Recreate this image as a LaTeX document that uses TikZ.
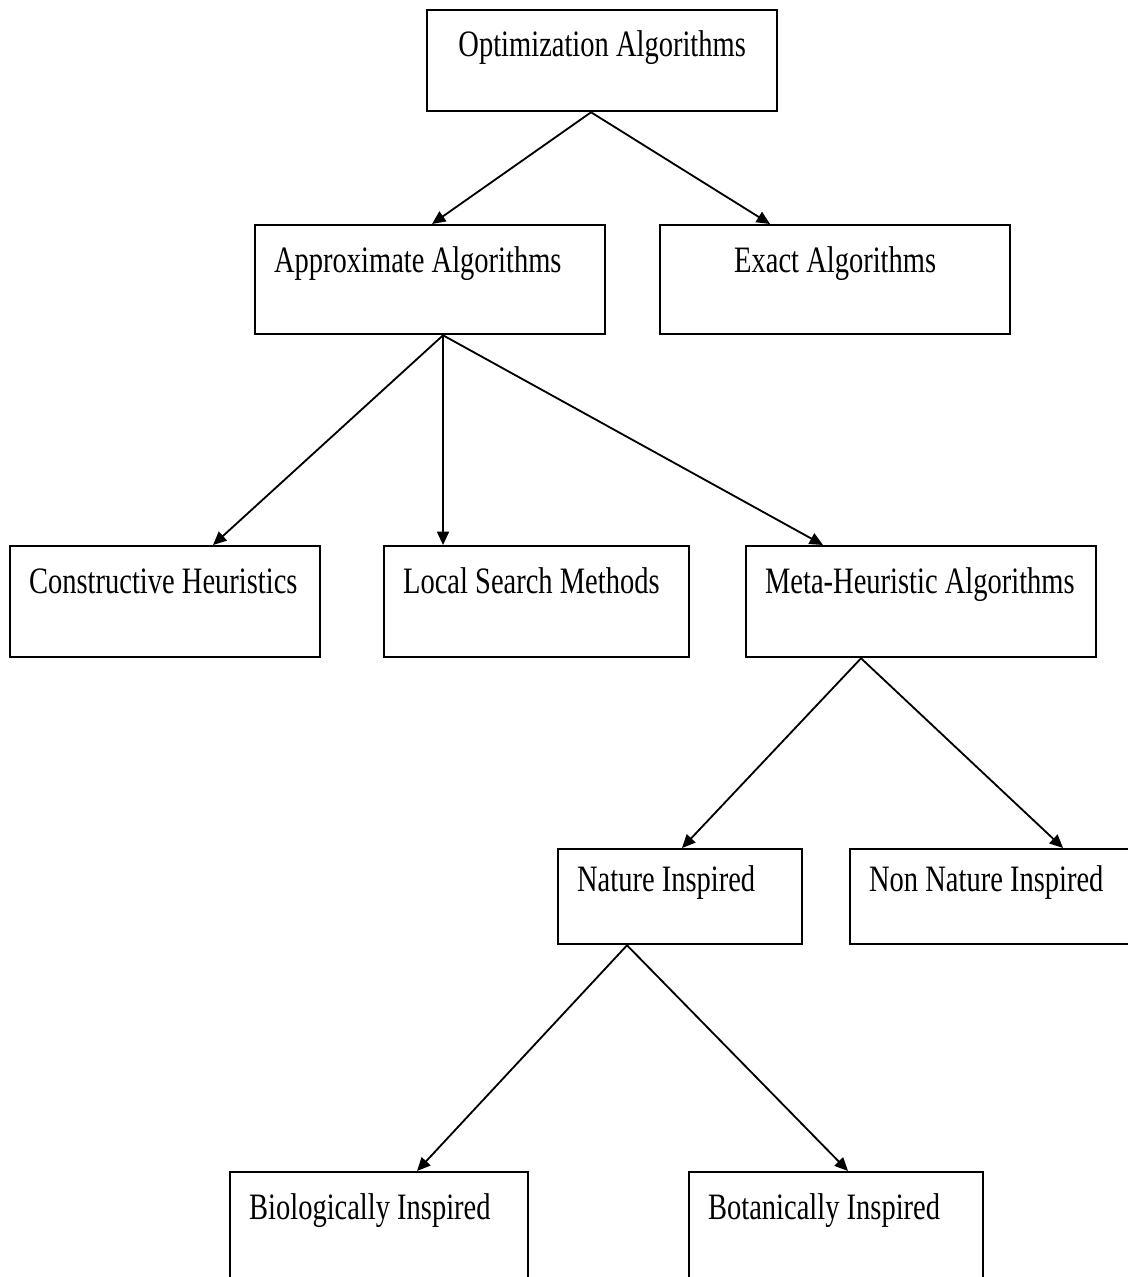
\documentclass[tikz,border=0pt]{standalone}
\usepackage{fontspec}
\setmainfont[FakeStretch=0.765]{Liberation Serif}
\usetikzlibrary{arrows.meta}
\tikzset{
    link/.style={line width=1.3pt, -{Triangle[length=9.5pt, width=8.5pt]}}, % arrow from a box down to a box below it
    }

\begin{document}
\begin{tikzpicture}[x=0.025cm, y=-0.025cm,
algbox/.style={draw=black, line width=1.6pt, anchor=north west, inner xsep=0.475cm, inner ysep=0pt, align=flush left, font=\fontsize{26.5pt}{30pt}\selectfont, text height=1.175cm, text depth=1.55cm},
flatbox/.style={algbox, text height=1.05cm, text depth=1.325cm},
]
\clip (0,0) rectangle (1128,1277);

\node[algbox, text width=7.8cm, align=flush center, text height=1.15cm, text depth=1.375cm] (opt) at (426,9) {Optimization Algorithms};
\node[algbox, text width=7.8cm] (approx) at (254,224) {Approximate Algorithms};
\node[algbox, text width=7.8cm, align=flush center] (exact) at (659,224) {Exact Algorithms};

\node[algbox, text width=6.8cm, text depth=1.6cm] (constr) at (9,545) {Constructive Heuristics};
\node[algbox, text width=6.675cm, text depth=1.6cm] (local) at (383,545) {Local Search Methods};
\node[algbox, text width=7.8cm, text depth=1.6cm] (meta) at (745,545) {\mbox{Meta-Heuristic Algorithms}};

\node[flatbox, text width=5.15cm] (nature) at (557,848) {Nature Inspired};
\node[flatbox, text width=6.55cm] (nonnature) at (849,848) {Non Nature Inspired};

\node[algbox, text width=6.5cm] (bio) at (229,1171) {Biologically Inspired};
\node[algbox, text width=6.4cm] (bot) at (688,1171) {Botanically Inspired};

\draw[link] ([xshift=4.125cm]opt.south west) -- ([xshift=4.45cm]approx.north west);
\draw[link] ([xshift=4.125cm]opt.south west) -- ([xshift=2.775cm]exact.north west);

\draw[link] ([xshift=4.725cm]approx.south west) -- ([xshift=5.1cm]constr.north west);
\draw[link] ([xshift=4.725cm]approx.south west) -- ([xshift=1.5cm]local.north west);
\draw[link] ([xshift=4.725cm]approx.south west) -- ([xshift=1.95cm]meta.north west);

\draw[link] ([xshift=2.9cm]meta.south west) -- ([xshift=3.125cm]nature.north west);
\draw[link] ([xshift=2.9cm]meta.south west) -- ([xshift=5.35cm]nonnature.north west);

\draw[link] ([xshift=1.75cm]nature.south west) -- ([xshift=4.7cm]bio.north west);
\draw[link] ([xshift=1.75cm]nature.south west) -- ([xshift=4cm]bot.north west);
\end{tikzpicture}
\end{document}
